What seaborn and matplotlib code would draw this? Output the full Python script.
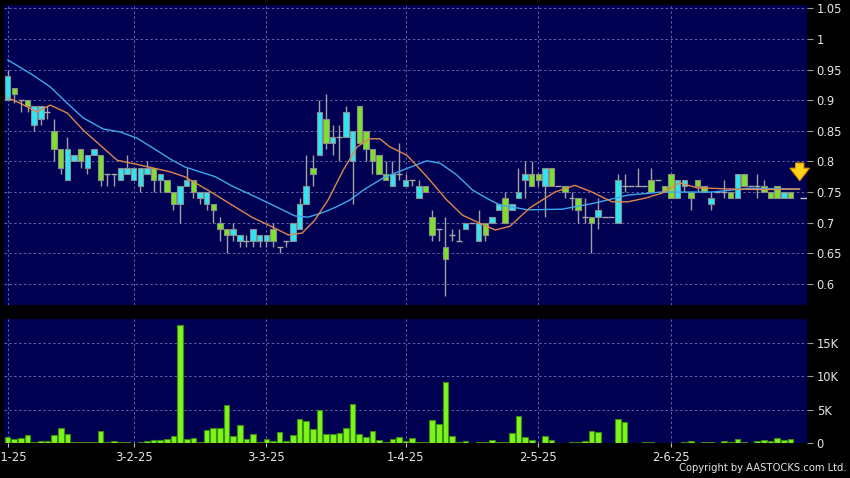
import matplotlib
matplotlib.use("Agg")
import matplotlib.pyplot as plt
import seaborn as sns
import numpy as np
import pandas as pd

# daily OHLC (HKD), one entry per trading day from 2-1-25
opens = [0.90, 0.92, 0.90, 0.90, 0.86, 0.87, 0.88, 0.85, 0.82, 0.77,
         0.80, 0.82, 0.79, 0.81, 0.81, 0.78, 0.78, 0.77, 0.78, 0.77,
         0.76, 0.78, 0.79, 0.77, 0.77, 0.75, 0.73, 0.76, 0.77, 0.74,
         0.73, 0.73, 0.70, 0.69, 0.68, 0.67, 0.67, 0.67, 0.67, 0.67,
         0.69, 0.66, 0.67, 0.67, 0.69, 0.73, 0.79, 0.81, 0.87, 0.83,
         0.84, 0.84, 0.80, 0.89, 0.85, 0.82, 0.81, 0.78, 0.76, 0.78,
         0.76, 0.77, 0.74, 0.76, 0.71, 0.69, 0.66, 0.68, 0.67, 0.69,
         0.70, 0.67, 0.70, 0.70, 0.72, 0.74, 0.72, 0.74, 0.77, 0.78,
         0.78, 0.76, 0.79, 0.76, 0.76, 0.74, 0.74, 0.71, 0.71, 0.71,
         0.71, 0.71, 0.70, 0.76, 0.76, 0.76, 0.76, 0.77, 0.77, 0.76,
         0.78, 0.74, 0.76, 0.75, 0.77, 0.76, 0.73, 0.75, 0.75, 0.75,
         0.74, 0.78, 0.76, 0.76, 0.76, 0.75, 0.76, 0.74, 0.75]
highs = [0.95, 0.92, 0.90, 0.90, 0.89, 0.89, 0.89, 0.87, 0.82, 0.84,
         0.81, 0.82, 0.81, 0.82, 0.81, 0.78, 0.78, 0.79, 0.81, 0.79,
         0.79, 0.80, 0.79, 0.78, 0.77, 0.75, 0.76, 0.79, 0.77, 0.75,
         0.75, 0.73, 0.71, 0.69, 0.70, 0.68, 0.68, 0.69, 0.68, 0.68,
         0.70, 0.66, 0.67, 0.70, 0.74, 0.81, 0.81, 0.90, 0.91, 0.86,
         0.86, 0.89, 0.85, 0.89, 0.85, 0.82, 0.81, 0.80, 0.80, 0.83,
         0.78, 0.77, 0.77, 0.76, 0.72, 0.69, 0.71, 0.69, 0.69, 0.70,
         0.70, 0.72, 0.70, 0.71, 0.73, 0.75, 0.73, 0.79, 0.80, 0.80,
         0.78, 0.79, 0.79, 0.76, 0.76, 0.75, 0.74, 0.74, 0.71, 0.74,
         0.71, 0.71, 0.78, 0.78, 0.76, 0.79, 0.76, 0.79, 0.77, 0.76,
         0.78, 0.77, 0.77, 0.75, 0.77, 0.76, 0.75, 0.75, 0.77, 0.75,
         0.78, 0.78, 0.76, 0.78, 0.77, 0.75, 0.76, 0.75, 0.75]
lows = [0.90, 0.895, 0.88, 0.88, 0.85, 0.86, 0.87, 0.80, 0.78, 0.77,
        0.80, 0.79, 0.78, 0.81, 0.76, 0.76, 0.76, 0.77, 0.78, 0.77,
        0.75, 0.78, 0.75, 0.75, 0.75, 0.72, 0.70, 0.76, 0.74, 0.73,
        0.72, 0.70, 0.67, 0.65, 0.67, 0.66, 0.66, 0.66, 0.66, 0.66,
        0.66, 0.65, 0.66, 0.67, 0.69, 0.73, 0.76, 0.81, 0.82, 0.81,
        0.80, 0.84, 0.73, 0.83, 0.80, 0.78, 0.78, 0.77, 0.76, 0.77,
        0.76, 0.76, 0.74, 0.75, 0.67, 0.67, 0.58, 0.67, 0.67, 0.69,
        0.70, 0.67, 0.67, 0.70, 0.72, 0.70, 0.72, 0.74, 0.74, 0.76,
        0.76, 0.71, 0.76, 0.76, 0.74, 0.72, 0.70, 0.70, 0.65, 0.69,
        0.71, 0.71, 0.70, 0.75, 0.76, 0.76, 0.76, 0.75, 0.77, 0.75,
        0.74, 0.74, 0.75, 0.72, 0.75, 0.75, 0.72, 0.75, 0.74, 0.74,
        0.74, 0.76, 0.76, 0.74, 0.75, 0.74, 0.74, 0.74, 0.74]
closes = [0.94, 0.91, 0.90, 0.89, 0.89, 0.89, 0.88, 0.82, 0.79, 0.82,
          0.81, 0.80, 0.81, 0.82, 0.77, 0.78, 0.78, 0.79, 0.79, 0.79,
          0.79, 0.79, 0.77, 0.78, 0.75, 0.73, 0.76, 0.77, 0.75, 0.75,
          0.75, 0.72, 0.69, 0.68, 0.69, 0.68, 0.67, 0.69, 0.68, 0.68,
          0.67, 0.66, 0.67, 0.70, 0.73, 0.76, 0.78, 0.88, 0.83, 0.84,
          0.84, 0.88, 0.85, 0.83, 0.82, 0.80, 0.78, 0.77, 0.78, 0.78,
          0.77, 0.77, 0.76, 0.75, 0.68, 0.69, 0.64, 0.68, 0.67, 0.70,
          0.70, 0.70, 0.68, 0.71, 0.73, 0.70, 0.73, 0.75, 0.78, 0.76,
          0.77, 0.79, 0.76, 0.76, 0.75, 0.74, 0.72, 0.71, 0.70, 0.72,
          0.71, 0.71, 0.77, 0.76, 0.76, 0.76, 0.76, 0.75, 0.77, 0.75,
          0.74, 0.77, 0.77, 0.74, 0.76, 0.75, 0.74, 0.75, 0.75, 0.74,
          0.78, 0.76, 0.76, 0.76, 0.75, 0.74, 0.74, 0.75, 0.74]

# volume in thousands of shares
volumes_k = [0.85, 0.6, 0.8, 1.2, 0.1, 0.3, 0.3, 1.25, 2.3, 1.35,
             0.1, 0.2, 0.15, 0.1, 1.75, 0.15, 0.35, 0.2, 0.15, 0.05,
             0.15, 0.35, 0.5, 0.4, 0.55, 1.0, 17.75, 0.65, 0.7, 0.15,
             1.95, 2.3, 2.3, 5.7, 1.1, 2.65, 0.65, 1.35, 0.15, 0.6,
             0.25, 1.7, 0.3, 1.15, 3.65, 3.35, 2.1, 4.95, 1.4, 1.4,
             1.55, 2.25, 5.85, 1.3, 0.9, 1.8, 0.5, 0.2, 0.65, 0.95,
             0.25, 0.8, 0.15, 0.15, 3.4, 2.85, 9.15, 1.0, 0.2, 0.25,
             0.0, 0.15, 0.15, 0.45, 0.15, 0.1, 1.45, 4.0, 0.95, 0.4,
             0.05, 1.1, 0.45, 0.0, 0.05, 0.15, 0.15, 0.3, 1.85, 1.6,
             0.05, 0.0, 3.6, 3.2, 0.0, 0.05, 0.2, 0.1, 0.0, 0.05,
             0.05, 0.05, 0.2, 0.35, 0.05, 0.1, 0.1, 0.0, 0.3, 0.1,
             0.65, 0.2, 0.0, 0.35, 0.4, 0.35, 0.75, 0.5, 0.65]

# moving averages (bar position, price)
ma_fast_pos = [0, 1.9, 4.4, 6.4, 9.0, 11.4, 13.9, 16.5, 20.0, 24.5,
               26.7, 30.2, 33.8, 36.8, 39.9, 42.3, 44.4, 46.3, 48.3, 50.6,
               52.7, 54.6, 56.1, 57.6, 60.2, 63.2, 66.2, 68.6, 71.2, 73.5,
               75.7, 78.7, 82.5, 85.5, 88.1, 91.1, 93.5, 96.1, 98.6, 101.3,
               103.9, 108.9, 114.0, 119.4]
ma_fast = [0.904, 0.895, 0.881, 0.892, 0.879, 0.851, 0.827, 0.802, 0.794, 0.783,
           0.775, 0.753, 0.729, 0.709, 0.693, 0.680, 0.683, 0.704, 0.737, 0.786,
           0.824, 0.837, 0.837, 0.824, 0.810, 0.775, 0.737, 0.712, 0.699, 0.688,
           0.694, 0.724, 0.750, 0.761, 0.750, 0.734, 0.734, 0.740, 0.748, 0.765,
           0.757, 0.755, 0.754, 0.755]
ma_slow_pos = [0, 3.8, 6.4, 9.0, 11.4, 14.4, 17.0, 19.5, 21.9, 24.5,
               26.7, 31.3, 33.8, 36.8, 39.9, 43.3, 45.3, 47.4, 49.4, 51.6,
               53.6, 56.6, 59.6, 63.2, 65.2, 67.7, 70.1, 72.7, 74.2, 78.4,
               83.6, 88.5, 93.5, 98.6, 106.3, 111.4, 119.4]
ma_slow = [0.966, 0.941, 0.922, 0.895, 0.871, 0.853, 0.848, 0.838, 0.822, 0.804,
           0.791, 0.775, 0.760, 0.745, 0.729, 0.711, 0.709, 0.716, 0.725, 0.737,
           0.753, 0.773, 0.786, 0.801, 0.797, 0.778, 0.753, 0.737, 0.729, 0.721,
           0.722, 0.732, 0.745, 0.750, 0.750, 0.756, 0.755]

date_ticks = [0, 19, 39, 60, 80, 100]
date_labels = ["2-1-25", "3-2-25", "3-3-25", "1-4-25", "2-5-25", "2-6-25"]
price_ticks = [0.6, 0.65, 0.7, 0.75, 0.8, 0.85, 0.9, 0.95, 1.0, 1.05]
price_labels = ["0.6", "0.65", "0.7", "0.75", "0.8", "0.85", "0.9", "0.95", "1", "1.05"]
vol_ticks = [0, 5000, 10000, 15000]
vol_labels = ["0", "5K", "10K", "15K"]

BG = "#000052"
UP = "#2fe4f4"
DOWN = "#7ee02c"
EDGE = "#8c8c8c"
GRID = "#6464a6"
TXT = "#e6e6e6"

sns.set_style("dark", {"axes.facecolor": BG, "figure.facecolor": "black"})
plt.rcParams['font.family'] = ['DejaVu Sans']

df = pd.DataFrame({"open": opens, "high": highs, "low": lows,
                   "close": closes, "vol": np.array(volumes_k) * 1000})
df["x"] = np.arange(len(df))

W, H = 850, 478
fig = plt.figure(figsize=(W / 100, H / 100), dpi=100, facecolor="black")
ax = fig.add_axes([4 / W, 1 - 305 / H, 803 / W, 300 / H])
axv = fig.add_axes([4 / W, 1 - 443 / H, 803 / W, 124 / H], sharex=ax)

xmin, xmax = -0.55, 120.5
ax.set_xlim(xmin, xmax)
ax.set_ylim(0.5655, 1.0555)
axv.set_ylim(0, 18600)

for a in (ax, axv):
    a.set_facecolor(BG)
    for s in a.spines.values():
        s.set_visible(False)
    a.grid(True, color=GRID, linestyle=(0, (2.5, 2.5)), linewidth=0.7)
    a.set_axisbelow(True)
    a.yaxis.tick_right()
    a.tick_params(axis="y", colors="#9a9a9a", labelcolor=TXT, labelsize=8.3,
                  length=4, width=0.8, direction="out", pad=3, right=True, left=False)

# wicks
ax.vlines(df["x"], df["low"], df["high"], color="#a0a0a0", linewidth=1, zorder=2)

# bodies
body = df[df["open"] != df["close"]]
up = body[body["close"] > body["open"]]
dn = body[body["close"] < body["open"]]
ax.bar(up["x"], up["close"] - up["open"], bottom=up["open"], width=0.82,
       color=UP, edgecolor=EDGE, linewidth=0.8, zorder=3)
ax.bar(dn["x"], dn["open"] - dn["close"], bottom=dn["close"], width=0.82,
       color=DOWN, edgecolor=EDGE, linewidth=0.8, zorder=3)

# doji dashes
dj = df[df["open"] == df["close"]]
ax.hlines(dj["close"], dj["x"] - 0.45, dj["x"] + 0.45, color="#a8a8a8", linewidth=1, zorder=3)

# moving averages
sns.lineplot(x=ma_slow_pos, y=ma_slow, ax=ax, color="#3ea8ee", linewidth=1, zorder=4)
sns.lineplot(x=ma_fast_pos, y=ma_fast, ax=ax, color="#e0864c", linewidth=1, zorder=4)

# last price marker and arrow
last_x = len(df) + 0.4
ax.hlines(df["close"].iloc[-1], last_x, xmax, color="#c8c8c8", linewidth=1, zorder=4)
ax.annotate("", xy=(last_x, 0.764), xytext=(last_x, 0.802),
            arrowprops=dict(arrowstyle="simple,head_length=0.9,head_width=1.4,tail_width=0.6",
                            fc="#ffd21a", ec="#e09000", lw=0.8), zorder=5)

ax.set_yticks(price_ticks, price_labels)
ax.set_xticks(date_ticks)
ax.tick_params(axis="x", labelbottom=False, length=0)

# volume
sns.barplot(x=df["x"], y=df["vol"], ax=axv, native_scale=True, width=0.85,
            color="#7cf51c", edgecolor="#3f8a12", linewidth=0.8, saturation=1, zorder=3)
axv.set_xlim(xmin, xmax)
axv.set_yticks(vol_ticks, vol_labels)
axv.set_xticks(date_ticks, date_labels)
axv.tick_params(axis="x", colors="#bdbdbd", labelcolor=TXT, labelsize=8.3,
                length=3, width=0.8, direction="out", pad=3, bottom=True)
axv.set_xlabel("")
axv.set_ylabel("")
ax.set_xlabel("")
ax.set_ylabel("")

fig.text(0.996, 0.01, "Copyright by AASTOCKS.com Ltd.", ha="right", va="bottom",
         color=TXT, fontsize=8, fontstretch="condensed")

fig.savefig("out.png", dpi=100, facecolor="black")
